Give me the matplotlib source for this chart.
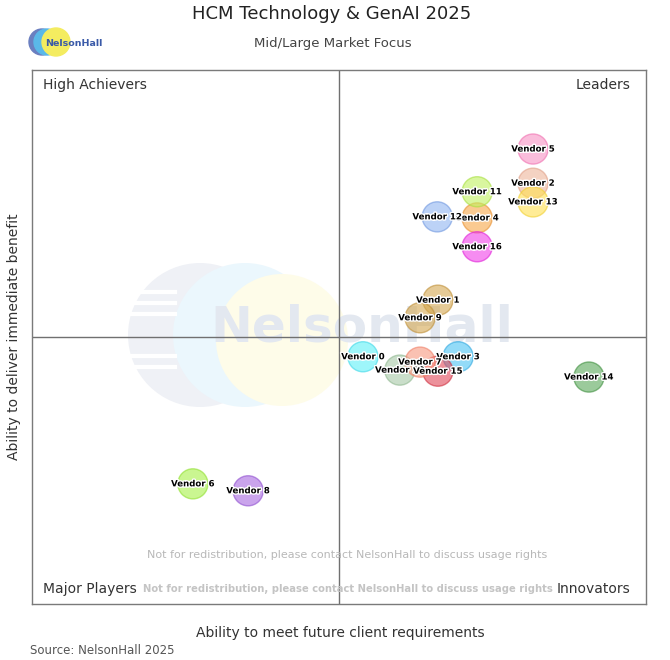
import matplotlib
matplotlib.use("Agg")
import matplotlib.pyplot as plt
import matplotlib.patheffects as pe
from matplotlib.patches import Ellipse, Circle

# data (0-10 scale on both axes, midpoint 5)
vendors = ["Vendor 0", "Vendor 1", "Vendor 2", "Vendor 3", "Vendor 4", "Vendor 5",
           "Vendor 6", "Vendor 8", "Vendor 9", "Vendor 10", "Vendor 11",
           "Vendor 12", "Vendor 13", "Vendor 14", "Vendor 15", "Vendor 16", "Vendor 7"]
x_vals = [5.39, 6.61, 8.16, 6.94, 7.25, 8.16, 2.62, 3.52, 6.32, 5.99, 7.25,
          6.60, 8.16, 9.07, 6.61, 7.25, 6.32]
y_vals = [4.63, 5.69, 7.88, 4.63, 7.23, 8.52, 2.25, 2.12, 5.36, 4.38, 7.72,
          7.25, 7.53, 4.25, 4.36, 6.69, 4.53]
fills = ["#5ef0f8", "#d4a850", "#eeb49a", "#4cc4f4", "#f8a848", "#f892c4",
         "#a8f048", "#a868e0", "#d4a850", "#a8c8a8", "#c0f060",
         "#90b4f0", "#ffe050", "#58a858", "#e04858", "#f040e8", "#f89880"]
edges = ["#40d8e8", "#c09038", "#e0a088", "#30a8e0", "#e89030", "#f070b0",
         "#90e030", "#9050d0", "#c09038", "#90b890", "#a8e040",
         "#7098e0", "#f0d030", "#409040", "#d03040", "#e020d8", "#f08068"]

quadrants = ["High Achievers", "Leaders", "Major Players", "Innovators"]
title = "HCM Technology & GenAI 2025"
subtitle = "Mid/Large Market Focus"
notice = "Not for redistribution, please contact NelsonHall to discuss usage rights"

W, H = 670, 660
fig = plt.figure(figsize=(W / 100, H / 100), dpi=100)
fig.patch.set_facecolor("white")

left, right, top, bottom = 32, 646, 70, 604
ax = fig.add_axes([left / W, 1 - bottom / H, (right - left) / W, (bottom - top) / H])
ax.set_xlim(0, 10)
ax.set_ylim(0, 10)
ax.set_xticks([])
ax.set_yticks([])
for s in ax.spines.values():
    s.set_color("#7a7a7a")
    s.set_linewidth(1)

px_x = (right - left) / 10.0
px_y = (bottom - top) / 10.0

# faint watermark logo in the middle
for cx, cy, r, c in [(200, 335, 72, "#eff1f6"), (245, 335, 72, "#ebf7fd"), (282, 340, 66, "#fefce9")]:
    ax.add_patch(Ellipse(((cx - left) / px_x, (bottom - cy) / px_y), 2 * r / px_x, 2 * r / px_y,
                         facecolor=c, edgecolor="none", zorder=0))
for sy in [292, 303, 314, 356, 367]:
    ax.plot([(130 - left) / px_x, (175 - left) / px_x], [(bottom - sy) / px_y] * 2,
            color="white", lw=3, zorder=0.2)
ax.text((362 - left) / px_x, (bottom - 328) / px_y, "NelsonHall", fontsize=36, fontweight="bold",
        color="#e3e8f0", ha="center", va="center", zorder=0.5)

ax.axvline(5, color="#707070", lw=1, zorder=1)
ax.axhline(5, color="#707070", lw=1, zorder=1)

ax.scatter(x_vals, y_vals, s=470, c=fills, alpha=0.6, edgecolors=edges, linewidths=1, zorder=3)
for name, xv, yv in zip(vendors, x_vals, y_vals):
    ax.text(xv, yv, name, fontsize=6.2, fontweight="bold", ha="center", va="center", color="black",
            zorder=5, path_effects=[pe.withStroke(linewidth=2, foreground="white")])

ax.text(0.018, 0.972, quadrants[0], transform=ax.transAxes, fontsize=10, color="#333333", va="center")
ax.text(0.975, 0.972, quadrants[1], transform=ax.transAxes, fontsize=10, color="#333333",
        va="center", ha="right")
ax.text(0.018, 0.029, quadrants[2], transform=ax.transAxes, fontsize=10, color="#333333", va="center")
ax.text(0.975, 0.029, quadrants[3], transform=ax.transAxes, fontsize=10, color="#333333",
        va="center", ha="right")

ax.text((347 - left) / (right - left), (bottom - 555) / (bottom - top), notice, transform=ax.transAxes,
        fontsize=8, color="#b8b8b8", ha="center", va="center")
ax.text((348 - left) / (right - left), 0.029, notice, transform=ax.transAxes, fontsize=8,
        fontweight="bold", fontstretch="condensed", color="#c4c4c4", ha="center", va="center")

fig.text(332 / W, 1 - 14 / H, title, fontsize=13, color="#222222", ha="center", va="center")
fig.text(333 / W, 1 - 44 / H, subtitle, fontsize=9.5, color="#444444", ha="center", va="center")
fig.text(340 / W, 1 - 633 / H, "Ability to meet future client requirements", fontsize=10,
         color="#333333", ha="center", va="center")
fig.text(14 / W, 1 - 337 / H, "Ability to deliver immediate benefit", fontsize=10,
         color="#333333", ha="center", va="center", rotation=90)
fig.text(30 / W, 1 - 651 / H, "Source: NelsonHall 2025", fontsize=8.5, color="#555555",
         ha="left", va="center")

# small logo top-left
lax = fig.add_axes([28 / W, 1 - 58 / H, 84 / W, 32 / H])
lax.set_xlim(0, 84)
lax.set_ylim(0, 32)
lax.set_aspect("equal")
lax.axis("off")
lax.add_patch(Circle((14, 16), 13, color="#6a7fc0"))
lax.add_patch(Circle((19, 16), 13, color="#5ab8e8"))
lax.add_patch(Circle((28, 16), 14, color="#f4ec60"))
lax.text(17, 15, "NelsonHall", fontsize=6.8, color="#3a5aa8", fontweight="bold", va="center")

fig.savefig("out.png", dpi=100, facecolor="white")
